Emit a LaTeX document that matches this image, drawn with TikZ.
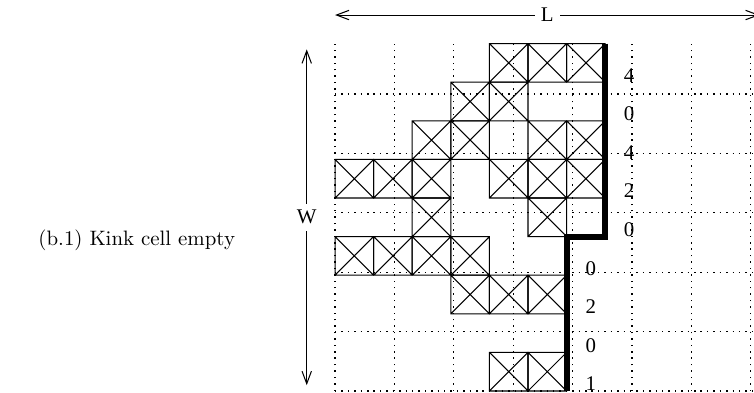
\documentclass[tikz,border=0pt]{standalone}
\usepackage{fontspec}
\usetikzlibrary{arrows.meta}
\newfontfamily\figfont{Liberation Serif}
\begin{document}
\begin{tikzpicture}[x=0.65cm,y=0.65cm,
    gridline/.style={line width=0.6pt,dash pattern=on 0.7pt off 2.372pt},
    cell/.style={draw,line width=0.5pt},
    kink/.style={line width=2.8pt},
    count/.style={anchor=base,inner sep=0pt,font=\figfont},
    dim/.style={{Straight Barb[length=6pt,width=4.5pt]}-{Straight Barb[length=6pt,width=4.5pt]},line width=0.5pt},
    dimlabel/.style={fill=white,inner sep=3pt,font=\figfont}]
  \useasboundingbox (-8.68,-0.052) rectangle (10.855,10.13);
  % dotted lattice
  \draw[gridline] (0,0) grid (11,9);
  % occupied cells
  \foreach \c/\r in {4/8,5/8,6/8, 3/7,4/7, 2/6,3/6,5/6,6/6,
                     0/5,1/5,2/5,4/5,5/5,6/5, 2/4,5/4,
                     0/3,1/3,2/3,3/3, 3/2,4/2,5/2, 4/0,5/0}
    \draw[cell] (\c,\r) rectangle ++(1,1)
                (\c,\r) -- ++(1,1) (\c+1,\r) -- ++(-1,1);
  % interface with the kink
  \draw[kink] (7,9) -- (7,4) -- (6,4) -- (6,0);
  % counts along the interface
  \foreach \r/\n in {8/4,7/0,6/4,5/2,4/0}
    \node[count] (cnt\r) at (7.62,\r) {\n};
  \foreach \r/\n in {3/0,2/2,1/0,0/1}
    \node[count] (cnt\r) at (6.63,\r) {\n};
  % dimensions
  \coordinate (lstart) at (0,9.74);
  \coordinate (lend) at (11,9.74);
  \draw[dim] (lstart) -- (lend) node[dimlabel,midway] (lenlabel) {L};
  \coordinate (wtop) at (-0.733,8.85);
  \coordinate (wbot) at (-0.733,0.15);
  \draw[dim] (wtop) -- (wbot) node[dimlabel,midway] (widlabel) {W};
  \node[anchor=east] (caption) at (-2.4,3.9) {(b.1) Kink cell empty};
\end{tikzpicture}
\end{document}
